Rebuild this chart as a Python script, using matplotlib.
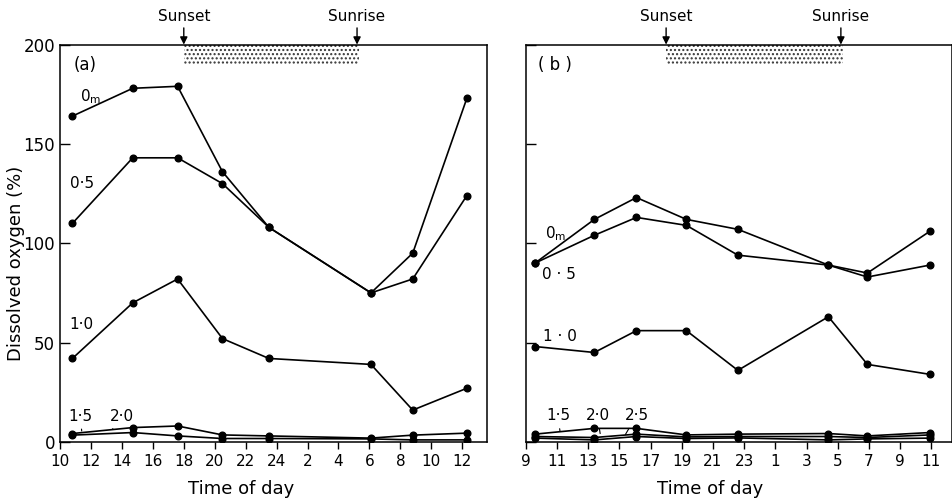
import matplotlib.pyplot as plt

# panel (a): sampling times (hours, continuing past midnight) and oxygen %
t_a = [10.8, 14.7, 17.6, 20.5, 23.5, 30.1, 32.8, 36.3]
a_0m = [164, 178, 179, 136, 108, 75, 95, 173]
a_05 = [110, 143, 143, 130, 108, 75, 82, 124]
a_10 = [42, 70, 82, 52, 42, 39, 16, 27]
a_15 = [4.2, 7.2, 8, 3.5, 3, 1.9, 3.4, 4.4]
a_20 = [3.4, 4.7, 3, 1.7, 1.7, 1.5, 1, 1]

# panel (b)
t_b = [9.6, 13.4, 16.1, 19.3, 22.6, 28.4, 30.9, 34.9]
b_0m = [90, 112, 123, 112, 107, 89, 85, 106]
b_05 = [90, 104, 113, 109, 94, 89, 83, 89]
b_10 = [48, 45, 56, 56, 36, 63, 39, 34]
b_15 = [3.9, 6.8, 6.8, 3.5, 3.9, 4.2, 3.0, 4.7]
b_20 = [2.7, 2.2, 3.9, 2.5, 2.7, 2.7, 2.2, 3.5]
b_25 = [1.9, 1.0, 2.7, 1.7, 2.0, 1.0, 1.5, 1.9]

ticks_a = list(range(10, 37, 2))
ticklabels_a = ['10', '12', '14', '16', '18', '20', '22', '24', '2', '4', '6', '8', '10', '12']
ticks_b = list(range(9, 36, 2))
ticklabels_b = ['9', '11', '13', '15', '17', '19', '21', '23', '1', '3', '5', '7', '9', '11']

sunset = 18.0
sunrise = 29.2
dark_end = 29.35

fig = plt.figure(figsize=(9.53, 5.01), dpi=100)
ax1 = fig.add_axes([0.063, 0.118, 0.448, 0.793])
ax2 = fig.add_axes([0.5516, 0.118, 0.447, 0.793])

line_kw = dict(color='black', linewidth=1.2, marker='o', markersize=4.8)


def setup(ax, xlim, ticks, labels, show_y):
    ax.set_xlim(*xlim)
    ax.set_ylim(0, 200)
    ax.set_xticks(ticks)
    ax.set_xticklabels(labels, fontsize=11)
    ax.set_yticks([0, 50, 100, 150, 200])
    if show_y:
        ax.set_yticklabels(['0', '50', '100', '150', '200'], fontsize=12)
    else:
        ax.set_yticklabels([])
    ax.tick_params(axis='y', direction='in', length=7, width=1)
    ax.tick_params(axis='x', direction='out', length=5, width=1)
    for s in ax.spines.values():
        s.set_linewidth(1.1)
    # night period stipple and sun arrows
    ax.axvspan(sunset, dark_end, ymin=0.95, ymax=1.0, facecolor='none',
               edgecolor='0.2', hatch='....', linewidth=0)
    for x, txt in [(sunset, 'Sunset'), (sunrise, 'Sunrise')]:
        ax.annotate('', xy=(x, 200), xycoords=('data', 'data'),
                    xytext=(0, 12), textcoords='offset points',
                    arrowprops=dict(arrowstyle='-|>', color='black', lw=1,
                                    mutation_scale=11, shrinkA=0, shrinkB=0),
                    annotation_clip=False)
        ax.annotate(txt, xy=(x, 200), xytext=(0, 15), textcoords='offset points',
                    ha='center', va='bottom', fontsize=11, annotation_clip=False)
    ax.set_xlabel('Time of day', fontsize=13)


setup(ax1, (10, 37.6), ticks_a, ticklabels_a, True)
setup(ax2, (9, 36.3), ticks_b, ticklabels_b, False)

for ys in [a_0m, a_05, a_10, a_15, a_20]:
    ax1.plot(t_a, ys, **line_kw)
for ys in [b_0m, b_05, b_10, b_15, b_20, b_25]:
    ax2.plot(t_b, ys, **line_kw)

ax1.set_ylabel('Dissolved oxygen (%)', fontsize=13)
ax1.yaxis.set_label_coords(-0.082, 0.45)
ax1.xaxis.set_label_coords(0.424, -0.095)
ax2.xaxis.set_label_coords(0.433, -0.095)

# panel letters and depth labels
ax1.text(11.6, 189.5, '(a)', fontsize=12, ha='center', va='center')
ax2.text(10.9, 189.5, '( b )', fontsize=12, ha='center', va='center')

lab = dict(fontsize=11, ha='center', va='center')
ax1.text(12.0, 174, r'0$_{\mathregular{m}}$', **lab)
ax1.text(11.4, 130, '0·5', **lab)
ax1.text(11.4, 59, '1·0', **lab)
ax1.annotate('1·5', xy=(11.4, 5.5), xytext=(11.3, 13), arrowprops=dict(arrowstyle='-', lw=0.8), **lab)
ax1.annotate('2·0', xy=(13.3, 5.5), xytext=(14.0, 13), arrowprops=dict(arrowstyle='-', lw=0.8), **lab)

ax2.text(10.9, 105, r'0$_{\mathregular{m}}$', **lab)
ax2.text(11.1, 84.5, '0 · 5', **lab)
ax2.text(11.2, 53, '1 · 0', **lab)
ax2.annotate('1·5', xy=(11.2, 5.3), xytext=(11.07, 13.2), arrowprops=dict(arrowstyle='-', lw=0.8), **lab)
ax2.annotate('2·0', xy=(13.8, 2.8), xytext=(13.6, 13.2), arrowprops=dict(arrowstyle='-', lw=0.8), **lab)
ax2.annotate('2·5', xy=(15.3, 2.5), xytext=(16.1, 13.2), arrowprops=dict(arrowstyle='-', lw=0.8), **lab)

fig.savefig('out.png', dpi=100)
